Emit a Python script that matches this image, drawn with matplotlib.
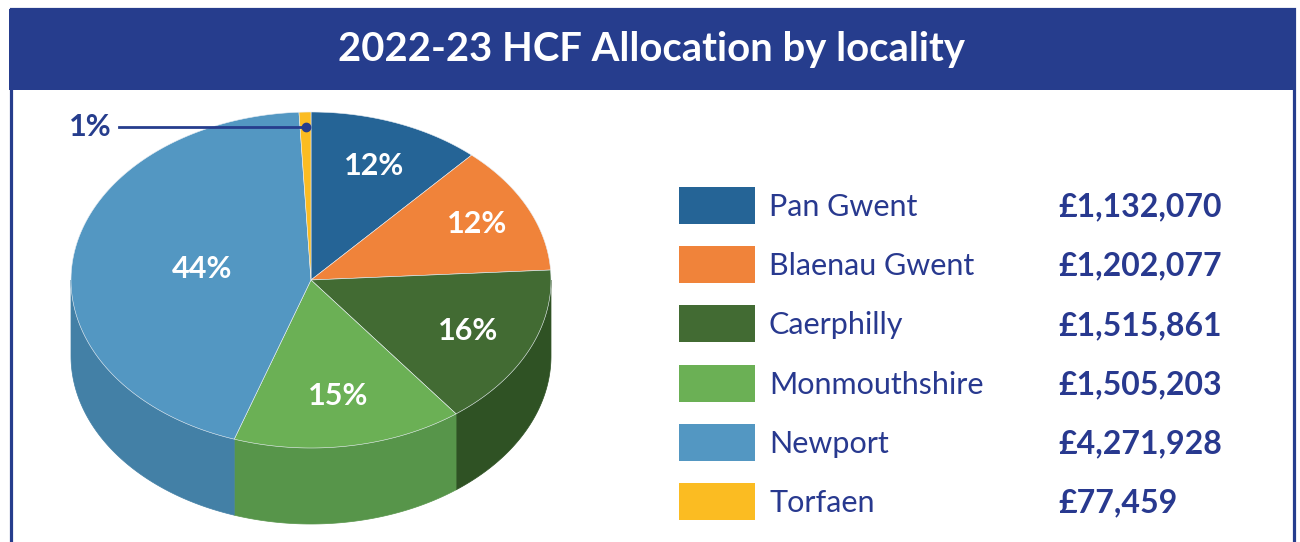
import numpy as np
import matplotlib.pyplot as plt
from matplotlib.patches import Polygon, Rectangle

# data
localities = ["Pan Gwent", "Blaenau Gwent", "Caerphilly", "Monmouthshire", "Newport", "Torfaen"]
amounts = [1132070, 1202077, 1515861, 1505203, 4271928, 77459]
amount_labels = ["£1,132,070", "£1,202,077", "£1,515,861", "£1,505,203", "£4,271,928", "£77,459"]
pct_labels = ["12%", "12%", "16%", "15%", "44%", "1%"]
title = "2022-23 HCF Allocation by locality"

# styling
top_colors = ["#256496", "#f0833a", "#426b33", "#6bb055", "#5397c2", "#fbbc22"]
side_colors = ["#1d4f78", "#c96a2c", "#2f5224", "#57954a", "#4380a6", "#d19c1a"]
label_r = [0.73, 0.77, 0.72, 0.70, 0.46, 0.91]
navy = "#263d8d"
text_blue = "#28398f"

plt.rcParams['font.family'] = ['Lato', 'DejaVu Sans']

fig = plt.figure(figsize=(13, 5.42), dpi=100)
ax = fig.add_axes([0, 0, 1, 1])
ax.set_xlim(0, 1300)
ax.set_ylim(542, 0)
ax.axis('off')

# frame + title banner
ax.add_patch(Rectangle((10.5, 9), 1283, 560, facecolor='white', edgecolor=navy, lw=2.3, zorder=0))
ax.add_patch(Rectangle((9, 9), 1286, 81, facecolor=navy, edgecolor='none', zorder=1))
ax.text(652, 50, title, color='white', fontsize=28.8, fontweight='bold', ha='center', va='center', zorder=2)

# 3d pie geometry (pixel space)
cx, cy, rx, ry, depth = 311, 280, 240, 168, 76


def pt(phi, r=1.0, dz=0.0):
    a = np.radians(phi)
    return cx + r * rx * np.sin(a), cy - r * ry * np.cos(a) + dz


total = sum(amounts)
bounds = np.concatenate([[0], np.cumsum(amounts) / total * 360])

# side walls (only the front half, 90..270 deg, is visible)
for i in range(len(amounts)):
    a, b = max(bounds[i], 90), min(bounds[i + 1], 270)
    if b <= a:
        continue
    phis = np.linspace(a, b, 80)
    top = [pt(p) for p in phis]
    bot = [pt(p, dz=depth) for p in phis[::-1]]
    ax.add_patch(Polygon(top + bot, closed=True, facecolor=side_colors[i], edgecolor=side_colors[i], lw=0.5, zorder=3))

# top faces
for i in range(len(amounts)):
    phis = np.linspace(bounds[i], bounds[i + 1], 120)
    verts = [(cx, cy)] + [pt(p) for p in phis]
    ax.add_patch(Polygon(verts, closed=True, facecolor=top_colors[i], edgecolor='#e8eef4', lw=0.4, zorder=4))

# percentage labels
for i, lab in enumerate(pct_labels):
    mid = (bounds[i] + bounds[i + 1]) / 2
    x, y = pt(mid, label_r[i])
    if amounts[i] / total < 0.03:
        ax.plot([119, x], [y, y], color=navy, lw=2, zorder=5)
        ax.plot(x, y, 'o', color=navy, ms=6, zorder=6)
        ax.text(112, y, lab, color=navy, fontsize=22, fontweight='bold', ha='right', va='center', zorder=6)
    else:
        ax.text(x, y, lab, color='white', fontsize=22, fontweight='bold', ha='center', va='center', zorder=6)

# legend
row_h = 59.2
for i, name in enumerate(localities):
    y0 = 187 + i * row_h
    ax.add_patch(Rectangle((679, y0), 76, 37, facecolor=top_colors[i], edgecolor='none', zorder=3))
    ax.text(769, y0 + 20, name, color=text_blue, fontsize=22, ha='left', va='center', zorder=3)
    ax.text(1058, y0 + 20, amount_labels[i], color=text_blue, fontsize=23, fontweight='bold',
            ha='left', va='center', zorder=3)

fig.savefig('out.png', dpi=100, facecolor='white')
